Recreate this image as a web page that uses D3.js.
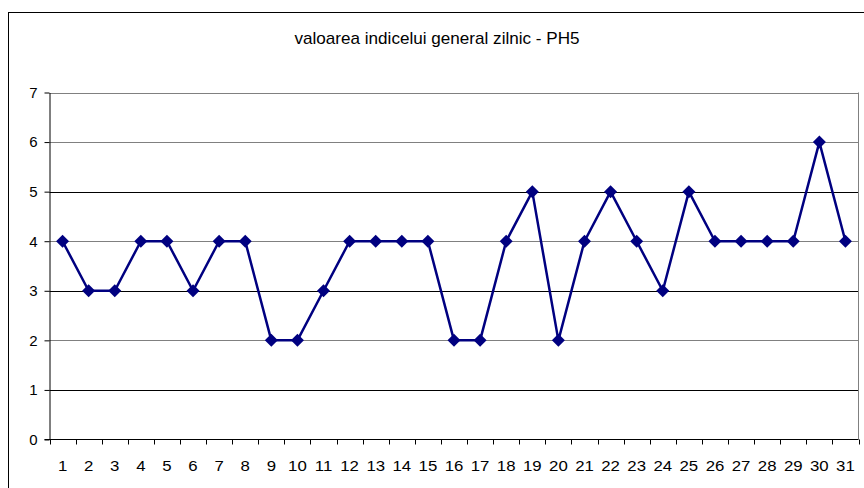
<!DOCTYPE html>
<html>
<head>
<meta charset="utf-8">
<script src="https://cdn.jsdelivr.net/npm/d3@7"></script>
<style>
  body { margin: 0; background: #fff; }
  svg { display: block; font-family: "Liberation Sans", Arial, sans-serif; }
</style>
</head>
<body>
<svg id="chart" width="864" height="488"></svg>
<script>
// ── Data ──────────────────────────────────────────────────────────────────
const title = "valoarea indicelui general zilnic - PH5";
const days = d3.range(1, 32).map(String);
const values = [4, 3, 3, 4, 4, 3, 4, 4, 2, 2, 3, 4, 4, 4, 4, 2, 2, 4, 5, 2, 4, 5, 4, 3, 5, 4, 4, 4, 4, 6, 4];
const yTicks = [0, 1, 2, 3, 4, 5, 6, 7];

// ── Layout ────────────────────────────────────────────────────────────────
const svg = d3.select("#chart");
const plot = { left: 49.5, top: 92.5, right: 858.5, bottom: 439.5 };
const FONT = "Liberation Sans, Arial, sans-serif";

// outer chart border (runs off the right/bottom edge)
svg.append("rect")
  .attr("x", 8.5).attr("y", 12.5)
  .attr("width", 900).attr("height", 500)
  .attr("fill", "none").attr("stroke", "#000").attr("stroke-width", 1);

svg.append("text")
  .attr("transform", "translate(437,43.5) scale(1.07,1)")
  .attr("text-anchor", "middle")
  .attr("font-size", 16)
  .text(title);

const x = d3.scaleBand().domain(days).range([plot.left, plot.right]);
const y = d3.scaleLinear().domain([0, 7]).range([plot.bottom, plot.top]);

// ── Gridlines ──
svg.append("g")
  .selectAll("line")
  .data(yTicks.filter((d) => d > 0))
  .join("line")
  .attr("x1", plot.left).attr("x2", plot.right)
  .attr("y1", (d) => Math.round(y(d)) + 0.5)
  .attr("y2", (d) => Math.round(y(d)) + 0.5)
  .attr("stroke", (d) => (d % 2 === 1 && d < 7 ? "#000" : "#808080"))
  .attr("stroke-width", 1);

// right plot border
svg.append("line")
  .attr("x1", plot.right).attr("x2", plot.right)
  .attr("y1", plot.top).attr("y2", plot.bottom)
  .attr("stroke", "#808080");

// ── Axes ──
const yAxis = svg.append("g")
  .attr("transform", `translate(${plot.left},0)`)
  .call(d3.axisLeft(y).tickValues(yTicks).tickFormat(d3.format("d"))
    .tickSize(5).tickPadding(7).tickSizeOuter(0));
yAxis.select(".domain").attr("stroke", "#000");
yAxis.selectAll("text").attr("font-size", 15).attr("fill", "#000")
  .attr("font-family", FONT);

const xAxis = svg.append("g")
  .attr("transform", `translate(0,${plot.bottom})`)
  .call(d3.axisBottom(x).tickSize(0).tickPadding(21));
xAxis.select(".domain").remove();
xAxis.selectAll("text").attr("font-size", 15).attr("fill", "#000")
  .attr("font-family", FONT)
  .attr("transform", "scale(1.12,1)");

// baseline + tick marks at category boundaries
svg.append("line")
  .attr("x1", plot.left - 5).attr("x2", plot.right)
  .attr("y1", plot.bottom).attr("y2", plot.bottom)
  .attr("stroke", "#000");
svg.append("g")
  .selectAll("line")
  .data(days.concat(["end"]))
  .join("line")
  .attr("x1", (d, i) => Math.round(plot.left + i * x.step()) + 0.5)
  .attr("x2", (d, i) => Math.round(plot.left + i * x.step()) + 0.5)
  .attr("y1", plot.bottom).attr("y2", plot.bottom + 5)
  .attr("stroke", "#000");

// ── Series ──
const cx = (d, i) => x(days[i]) + x.bandwidth() / 2;
svg.append("path")
  .datum(values)
  .attr("fill", "none")
  .attr("stroke", "#000080")
  .attr("stroke-width", 2.5)
  .attr("stroke-linejoin", "round")
  .attr("d", d3.line().x(cx).y((d) => y(d)));

svg.append("g")
  .selectAll("path")
  .data(values)
  .join("path")
  .attr("transform", (d, i) => `translate(${cx(d, i)},${y(d)})`)
  .attr("d", "M0,-6.5L6.5,0L0,6.5L-6.5,0Z")
  .attr("fill", "#000080");
</script>
</body>
</html>
